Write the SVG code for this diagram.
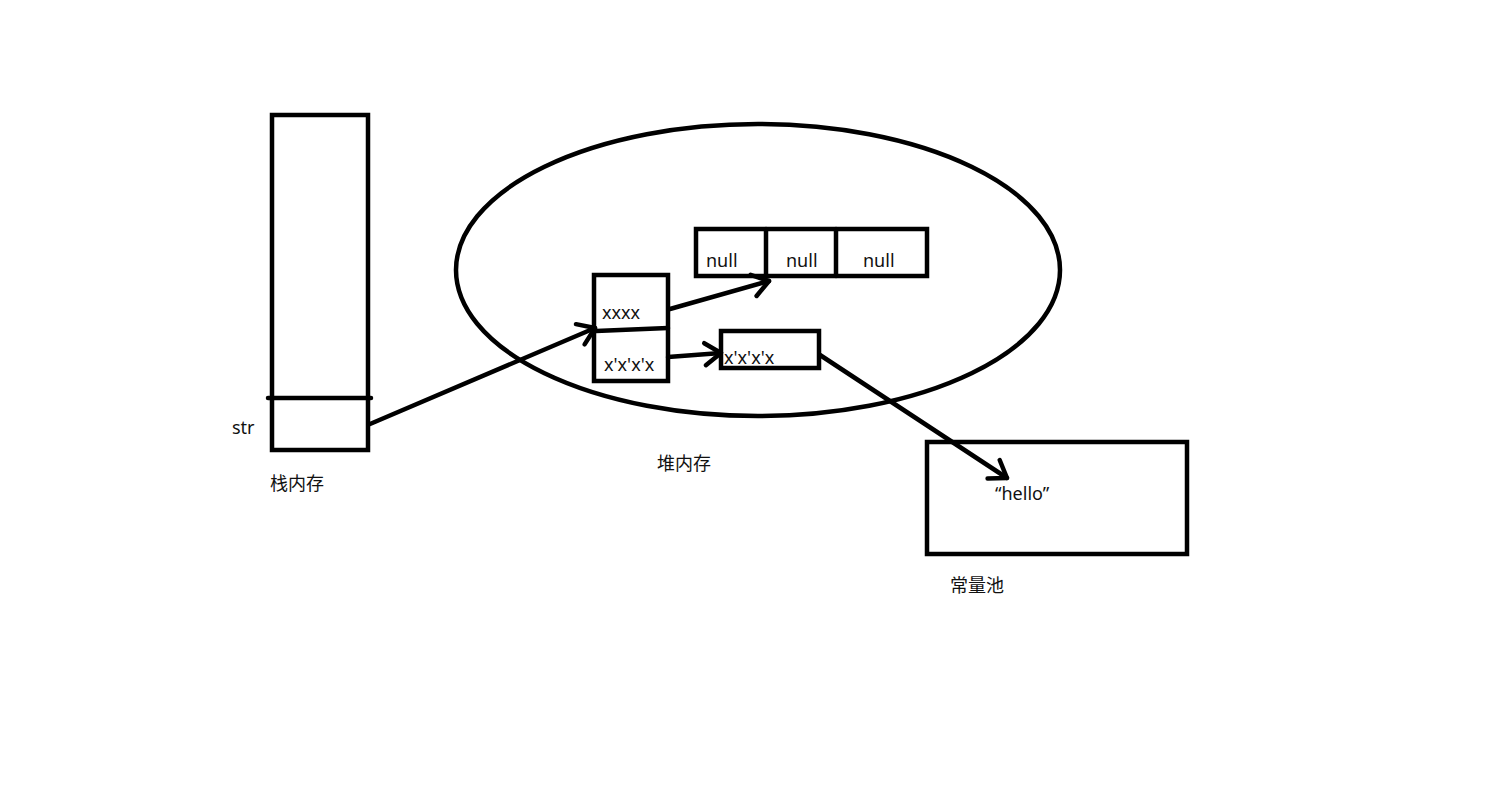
<svg xmlns="http://www.w3.org/2000/svg" width="1497" height="785" viewBox="0 0 1497 785">
<style>
.box{fill:none;stroke:#000;stroke-width:4.5}
.ln{fill:none;stroke:#000;stroke-width:4.5;stroke-linecap:round}
.t{font-family:"Noto Sans","Noto Sans CJK SC",sans-serif;font-size:18px;fill:#111}
</style>
<defs>
<marker id="ah" markerUnits="userSpaceOnUse" markerWidth="30" markerHeight="30" refX="20" refY="15" orient="auto" viewBox="0 0 30 30">
<path d="M4,4 L20,15 L4,26" fill="none" stroke="#000" stroke-width="4.5" stroke-linecap="round" stroke-linejoin="round"/>
</marker>
</defs>
<rect width="1497" height="785" fill="#fff"/>
<g id="stack">
<rect class="box" x="272" y="115" width="96" height="335"/>
<line class="ln" x1="268" y1="398" x2="371" y2="398"/>
<text class="t" x="232" y="434">str</text>
<text class="t" x="270" y="490">栈内存</text>
</g>
<g id="heap">
<ellipse class="box" cx="758" cy="270" rx="302" ry="146"/>
<text class="t" x="657" y="470">堆内存</text>
</g>
<g id="object">
<rect class="box" x="594" y="275" width="74" height="106"/>
<line class="ln" x1="596" y1="331" x2="668" y2="328"/>
<text class="t" x="602" y="319">xxxx</text>
<text class="t" x="604" y="371">x'x'x'x</text>
</g>
<g id="nullArray">
<rect class="box" x="696" y="229" width="231" height="47"/>
<line class="ln" x1="766" y1="229" x2="766" y2="276"/>
<line class="ln" x1="836" y1="229" x2="836" y2="276"/>
<text class="t" x="706" y="267">null</text>
<text class="t" x="786" y="267">null</text>
<text class="t" x="863" y="267">null</text>
</g>
<g id="strObj">
<rect class="box" x="721" y="331" width="98" height="37"/>
<text class="t" x="724" y="364">x'x'x'x</text>
</g>
<g id="pool">
<rect class="box" x="927" y="442" width="260" height="112"/>
<text class="t" x="995" y="500">“hello”</text>
<text class="t" x="950" y="592">常量池</text>
</g>
<g id="connectors">
<line class="ln" x1="370" y1="424" x2="595" y2="328" marker-end="url(#ah)"/>
<line class="ln" x1="670" y1="309" x2="769" y2="281" marker-end="url(#ah)"/>
<line class="ln" x1="668" y1="357" x2="721" y2="353" marker-end="url(#ah)"/>
<line class="ln" x1="820" y1="355" x2="1007" y2="478" marker-end="url(#ah)"/>
</g>
</svg>
